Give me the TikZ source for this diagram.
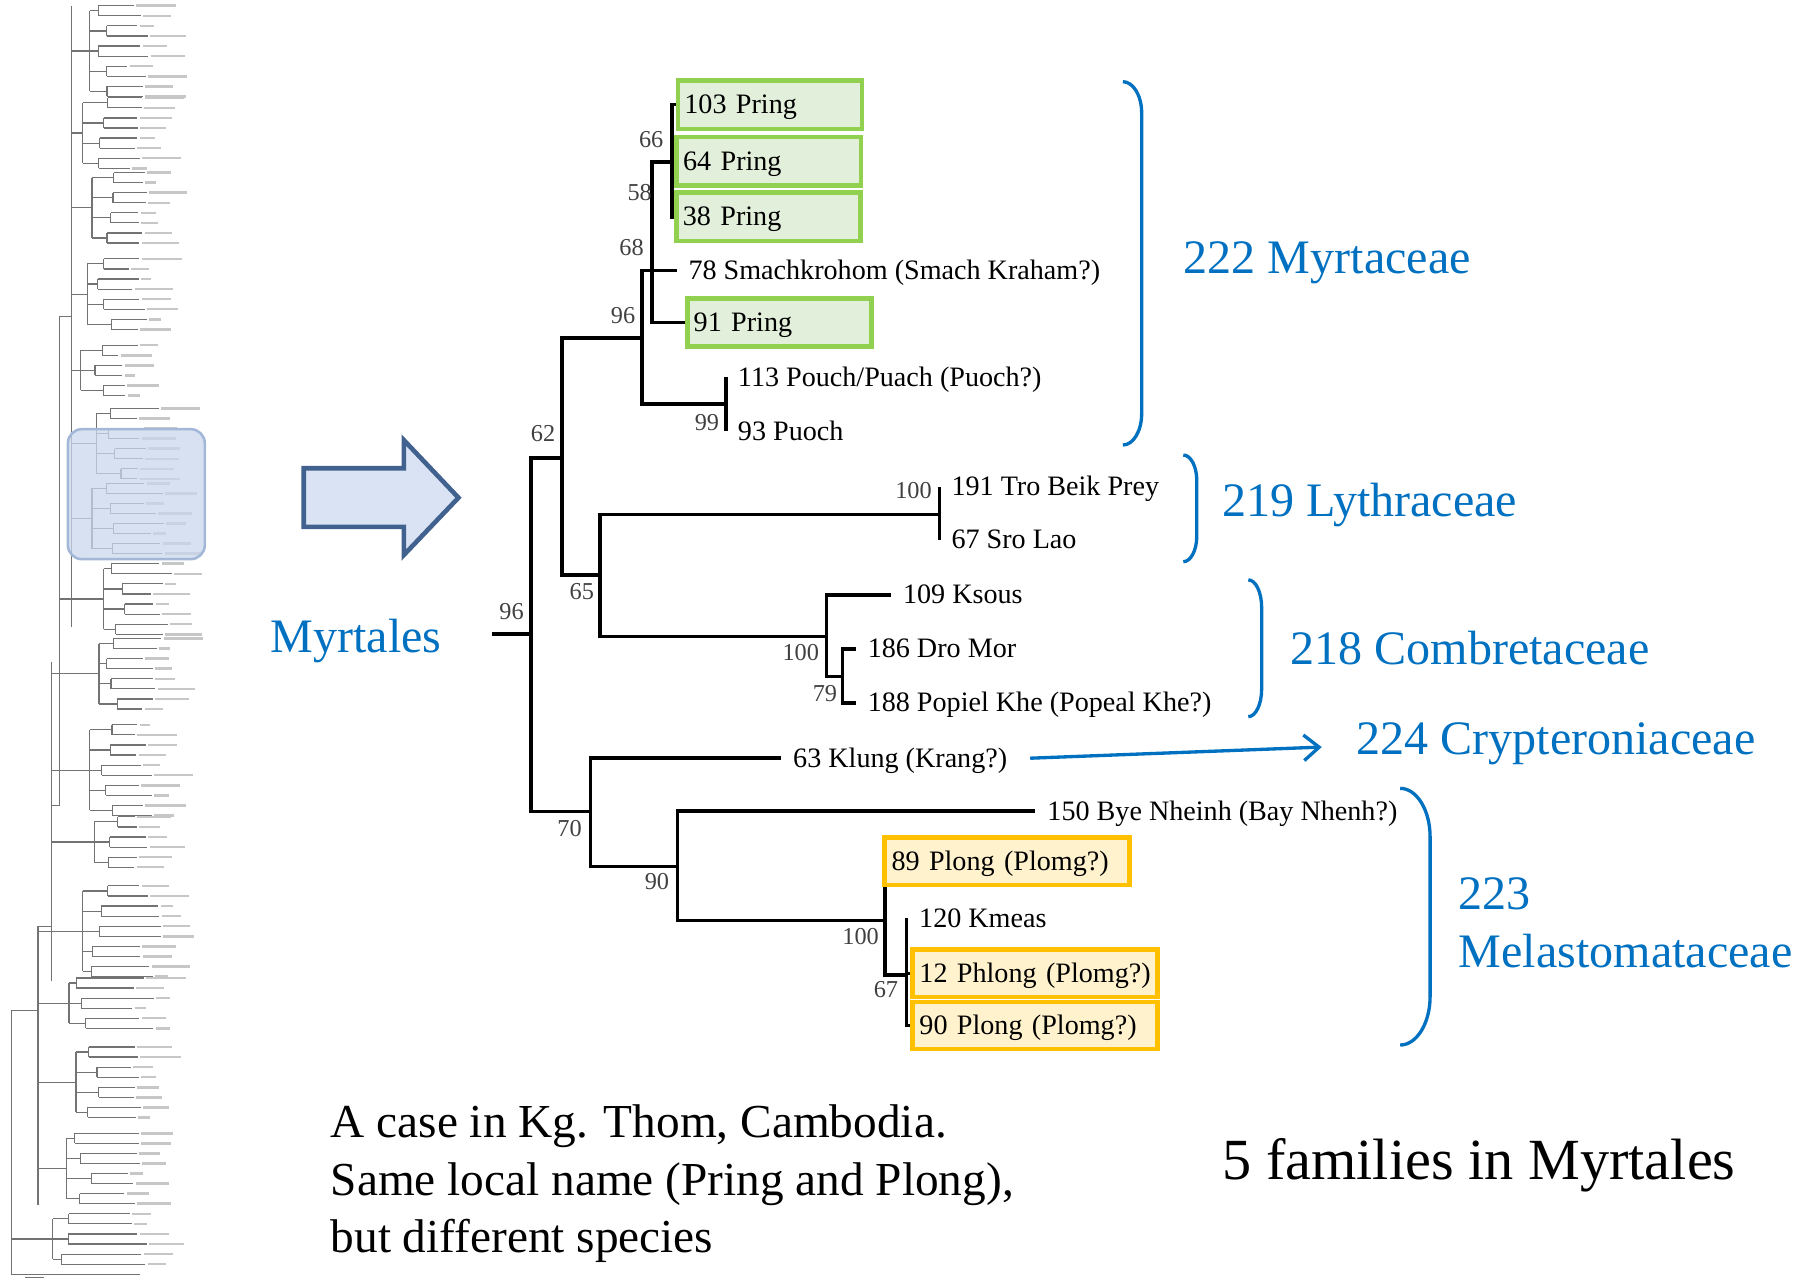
\documentclass[tikz,border=0pt]{standalone}
\usepackage{fontspec}
\setmainfont{Liberation Serif}
\usepackage{tikz}
\usetikzlibrary{positioning, arrows.meta}
\definecolor{famblue}{HTML}{0070C0}
\definecolor{pringgreen}{HTML}{92D050}
\definecolor{pringfill}{HTML}{E2EFDA}
\definecolor{plongorange}{HTML}{FFC000}
\definecolor{plongfill}{HTML}{FFF2CC}
\definecolor{arrowfill}{HTML}{DAE3F3}
\definecolor{arrowedge}{HTML}{41618F}
\definecolor{hlfill}{HTML}{C9D7EC}
\definecolor{hledge}{HTML}{A3B8D8}
\newcommand\leaffont{\fontsize{11}{13}\selectfont}
\newcommand\bootfont{\fontsize{9.5}{11}\selectfont}
\newcommand\famfont{\fontsize{18.8}{23}\selectfont}
% right bracket: x0, x1, ytop, ybot, curve height
\newcommand\fambracket[5]{%
  \draw[famline] (#1,#3) .. controls ({#1+0.55*(#2-#1)},#3) and (#2,{#3+0.45*#5}) .. (#2,{#3+#5})
     -- (#2,{#4-#5}) .. controls (#2,{#4-0.45*#5}) and ({#1+0.55*(#2-#1)},#4) .. (#1,#4);}

\begin{document}
\begin{tikzpicture}[x=0.45pt, y=-0.45pt,
    treeline/.style={black, line width=1.4pt},
    leaf/.style={font=\leaffont, anchor=west, inner xsep=4.5pt, inner ysep=0pt, text height=8pt, text depth=1pt},
    pringbox/.style={draw=pringgreen, fill=pringfill, line width=1.8pt, anchor=west, font=\leaffont, text width=67pt, inner xsep=2.5pt, minimum height=18.9pt, align=left, text height=8pt, text depth=1pt},
    plongbox/.style={pringbox, draw=plongorange, fill=plongfill, text width=90.5pt, inner xsep=2.65pt, minimum height=18.5pt},
    boot/.style={font=\bootfont, text=black!75, inner sep=0pt},
    famlabel/.style={font=\famfont, text=famblue, anchor=west, inner sep=0pt, align=left},
    famone/.style={famlabel, text height=16pt, text depth=3.6pt},
    famline/.style={famblue, line width=1.3pt},
    thumbline/.style={black!55, line width=0.45pt},
    thumbtext/.style={black!22, line width=1pt},
]
\useasboundingbox (0,0) rectangle (1568,1112);

% overview tree (thumbnail)
\pgfmathsetseed{3}
\foreach \yt/\yb/\xv/\xb/\xl in {5/75/78/62/120, 85/140/72/62/115, 150/215/80/62/118, 225/290/76/62/122,
    300/345/70/62/112, 355/410/84/62/128, 420/480/80/62/135, 490/545/90/52/140, 555/620/86/45/132,
    630/700/78/45/125, 710/760/82/45/120, 770/840/72/33/130, 850/900/60/33/125, 910/975/66/33/120,
    985/1045/58/33/118, 1055/1100/46/10/122}{
  \pgfmathsetmacro\ynext{\yt+17.5}
  \pgfmathsetmacro\ylast{\yt+17.5*floor((\yb-\yt)/17.5)}
  \pgfmathsetmacro\ymid{(\yt+\ylast)/2+4.375}
  \draw[thumbline] (\xv,\yt+4.375) -- (\xv,\ylast+4.375);
  \draw[thumbline] (\xb,\ymid) -- (\xv,\ymid);
  \foreach \yy in {\yt,\ynext,...,\ylast}{
    \pgfmathsetmacro\xs{\xv+6+16*rnd}
    \draw[thumbline] (\xv,\yy+4.375) -- (\xs,\yy+4.375) (\xs,\yy) -- (\xs,\yy+8.75);
    \foreach \yl in {\yy,\yy+8.75}{
      \pgfmathsetmacro\xe{\xl-10+20*rnd}
      \pgfmathsetmacro\xt{\xe+10+28*rnd}
      \draw[thumbline] (\xs,\yl) -- (\xe,\yl);
      \draw[thumbtext] (\xe+2,\yl) -- (\xt,\yl);
    }
  }
}
\draw[thumbline] (62,5) -- (62,545);
\draw[thumbline] (52,275) -- (52,700) (52,275) -- (62,275);
\draw[thumbline] (45,575) -- (45,853) (45,700) -- (52,700);
\draw[thumbline] (33,805) -- (33,1047) (33,805) -- (45,805);
\draw[thumbline] (10,878) -- (10,1108) (10,878) -- (33,878) (10,1108) -- (122,1108);
\draw[thumbline] (22,1110) -- (38,1110);
\draw[draw=hledge, line width=1pt, fill=hlfill, fill opacity=0.75, rounded corners=5.5pt] (59,373) rectangle (178,486);

% zoom arrow
\draw[line width=1.8pt, draw=arrowedge, fill=arrowfill, line join=miter]
  (264,407) -- (351,407) -- (351,382.5) -- (398.5,432.6) -- (351,482.4) -- (351,458) -- (264,458) -- cycle;
\node[famone] (myrtales) at (234.7,553) {Myrtales};

% leaves
\node[pringbox] (l103) at (587.3,91) {103 Pring};
\node[pringbox] (l64) at (586.2,140) {64 Pring};
\node[pringbox] (l38) at (586,188.5) {38 Pring};
\node[leaf] (l78) at (588,235) {78 Smachkrohom (Smach Kraham?)};
\node[pringbox] (l91) at (595.4,280.3) {91 Pring};
\node[leaf] (l113) at (631,328) {113 Pouch/Puach (Puoch?)};
\node[leaf] (l93) at (631,375) {93 Puoch};
\node[leaf] (l191) at (816.6,423) {191 Tro Beik Prey};
\node[leaf] (l67) at (816.6,469) {67 Sro Lao};
\node[leaf] (l109) at (774.5,517) {109 Ksous};
\node[leaf] (l186) at (743.8,564) {186 Dro Mor};
\node[leaf] (l188) at (743.8,611) {188 Popiel Khe (Popeal Khe?)};
\node[leaf] (l63) at (679,659) {63 Klung (Krang?)};
\node[leaf] (l150) at (900,705) {150 Bye Nheinh (Bay Nhenh?)};
\node[plongbox] (l89) at (767,748.5) {89 Plong (Plomg?)};
\node[leaf] (l120) at (788.5,798) {120 Kmeas};
\node[plongbox] (l12) at (791.3,846) {12 Phlong (Plomg?)};
\node[plongbox] (l90) at (791.3,891.3) {90 Plong (Plomg?)};

% internal nodes
\coordinate (rootstub) at (427.7,551);
\coordinate (root) at (461.5,551);
\coordinate (n62) at (488.6,398);
\coordinate (n96) at (558,294);
\coordinate (n68) at (566.5,235);
\coordinate (n58) at (566.5,187);
\coordinate (n66) at (584,141);
\coordinate (n99) at (631,351);
\coordinate (n65) at (521.7,500);
\coordinate (nLy) at (816.6,447);
\coordinate (nCo) at (718.5,553.4);
\coordinate (n79) at (732.4,588);
\coordinate (n70) at (513.3,705.5);
\coordinate (n90) at (588.7,753);
\coordinate (nMe) at (769,800);
\coordinate (n67) at (788,847.5);

% branches
\draw[treeline] (rootstub) -- (root) (root) |- (n62) (root) |- (n70);
\draw[treeline] (n62) |- (n96) (n62) |- (n65);
\draw[treeline] (n96) |- (n68) (n68) -- (l78.west) (n96) |- (n99);
\draw[treeline] (n68) |- (l91.west) (n68) -- (n58) (n58) |- (n66);
\draw[treeline] (n66) |- (l103.west) (n66) |- (l64.west) (n66) |- (l38.west);
\draw[treeline] (n99) -- (n99 |- l113.west) (n99) -- (n99 |- l93.west);
\draw[treeline] (n65) |- (nLy) (n65) |- (nCo);
\draw[treeline] (nLy) -- (nLy |- l191.west) (nLy) -- (nLy |- l67.west);
\draw[treeline] (nCo) |- (l109.west) (nCo) |- (n79);
\draw[treeline] (n79) |- (l186.west) (n79) |- (l188.west);
\draw[treeline] (n70) |- (l63.west) (n70) |- (n90);
\draw[treeline] (n90) |- (l150.west) (n90) |- (nMe);
\draw[treeline] (nMe) -- (nMe |- l89.south) (nMe) |- (n67);
\draw[treeline] (n67) -- (n67 |- l120.west) (n67) |- (l12.west) (n67) |- (l90.west);

% bootstrap values
\node[boot] (b66) at (566,121) {66};
\node[boot] (b58) at (556,167) {58};
\node[boot] (b68) at (549,215) {68};
\node[boot] (b96a) at (541.5,274) {96};
\node[boot] (b99) at (614.5,367) {99};
\node[boot] (b62) at (472,377) {62};
\node[boot] (b96) at (444.6,531.6) {96};
\node[boot] (b65) at (505.7,514) {65};
\node[boot] (b100a) at (794,426) {100};
\node[boot] (b100b) at (696,567) {100};
\node[boot] (b79) at (717,602.6) {79};
\node[boot] (b70) at (495,720) {70};
\node[boot] (b90) at (571,766) {90};
\node[boot] (b100c) at (748,814) {100};
\node[boot] (b67) at (770,860.5) {67};

% families
\fambracket{976}{992.3}{71}{386.8}{27}
\fambracket{1028.5}{1040.2}{395.5}{488.2}{22}
\fambracket{1085}{1096.6}{504}{622.9}{24}
\fambracket{1217}{1243}{685.2}{908.3}{42}
\node[famone] (fMyr) at (1028.5,223.5) {222 Myrtaceae};
\node[famone] (fLyt) at (1061.9,435) {219 Lythraceae};
\node[famone] (fCom) at (1121.3,564) {218 Combretaceae};
\node[famone] (fCry) at (1178.6,642) {224 Crypteroniaceae};
\node[famlabel] (fMel) at (1267.6,802) {223\\Melastomataceae};
\draw[famline, -{Straight Barb[length=6pt,width=10pt]}] ([xshift=4.3pt]l63.east) -- ([xshift=-13.4pt,yshift=-3.3pt]fCry.west);

% notes
\node[anchor=west, inner sep=0pt, align=left, font=\fontsize{18.5}{22.5}\selectfont] (note) at (287,1029)
  {A case in Kg. Thom, Cambodia.\\Same local name (Pring and Plong),\\but different species};
\node[anchor=west, inner sep=0pt, font=\fontsize{22.8}{27}\selectfont] (summary) at (1062,1013) {5 families in Myrtales};
\end{tikzpicture}
\end{document}
